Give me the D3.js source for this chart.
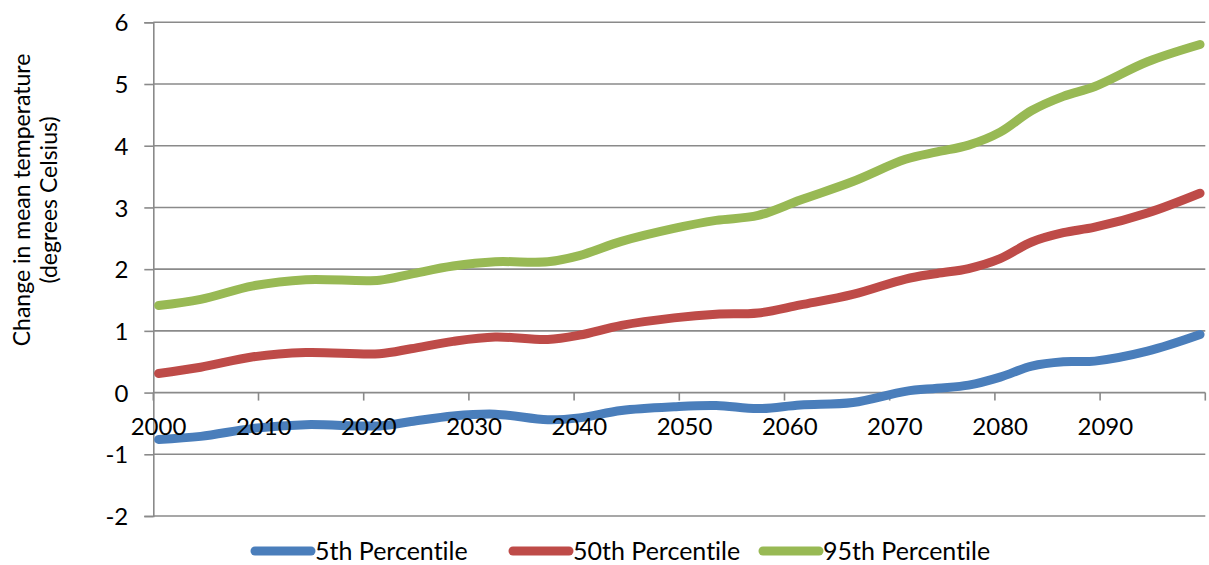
<!DOCTYPE html>
<html>
<head>
<meta charset="utf-8">
<script src="https://cdn.jsdelivr.net/npm/d3@7"></script>
<style>
  html, body { margin: 0; padding: 0; background: #fff; }
  svg { display: block; font-family: Lato, "Open Sans", sans-serif; font-variant-ligatures: none; }
</style>
</head>
<body>
<svg id="chart" width="1209" height="565"></svg>
<script>
// Projected change in mean temperature, by percentile
const years = [2000, 2004, 2009, 2014, 2021, 2024, 2028, 2032, 2037, 2040, 2044, 2049, 2053,
               2057, 2061, 2066, 2071, 2074, 2077, 2080, 2083, 2086, 2089, 2094, 2099];
const p5  = [-0.76, -0.71, -0.58, -0.52, -0.54, -0.47, -0.38, -0.35, -0.44, -0.41, -0.29, -0.23, -0.21,
             -0.26, -0.20, -0.16, 0.02, 0.07, 0.12, 0.25, 0.43, 0.50, 0.51, 0.67, 0.94];
const p50 = [0.31, 0.41, 0.58, 0.65, 0.63, 0.71, 0.83, 0.90, 0.86, 0.93, 1.09, 1.21, 1.27,
             1.29, 1.42, 1.59, 1.84, 1.93, 2.01, 2.17, 2.44, 2.59, 2.68, 2.91, 3.23];
const p95 = [1.41, 1.51, 1.73, 1.83, 1.82, 1.92, 2.05, 2.12, 2.12, 2.22, 2.45, 2.66, 2.79,
             2.87, 3.12, 3.42, 3.78, 3.90, 4.01, 4.22, 4.57, 4.80, 4.96, 5.36, 5.64];

const seriesNames  = ["5th Percentile", "50th Percentile", "95th Percentile"];
const seriesColors = ["#4a7ebb", "#be4b48", "#98b954"];
const seriesValues = [p5, p50, p95];

const yTicks = [-2, -1, 0, 1, 2, 3, 4, 5, 6];
const xTickYears = [2000, 2010, 2020, 2030, 2040, 2050, 2060, 2070, 2080, 2090, 2100];
const xLabelYears = [2000, 2010, 2020, 2030, 2040, 2050, 2060, 2070, 2080, 2090];

const svg = d3.select("#chart");
const gridColor = "#8a8a8a";
const fontSize = 24;

const x = d3.scaleLinear().domain([2000, 2100]).range([153.3, 1205.3]);
const y = d3.scaleLinear().domain([-2, 6]).range([516, 22.3]);

// horizontal gridlines
svg.append("g")
  .selectAll("line")
  .data(yTicks)
  .join("line")
  .attr("x1", x(2000)).attr("x2", x(2100))
  .attr("y1", d => y(d)).attr("y2", d => y(d))
  .attr("stroke", gridColor).attr("stroke-width", 1.6);

// value axis
const yAxis = svg.append("g")
  .attr("transform", `translate(${x(2000)},0)`)
  .call(d3.axisLeft(y).tickValues(yTicks).tickSize(9).tickPadding(16)
        .tickFormat(d => d3.format("d")(d).replace("−", "-")));
yAxis.select(".domain").attr("stroke", gridColor).attr("stroke-width", 1.6);
yAxis.selectAll(".tick line").attr("stroke", gridColor).attr("stroke-width", 1.6);
yAxis.selectAll(".tick text")
  .attr("font-size", fontSize).attr("fill", "#000").attr("font-family", "Lato, sans-serif")
  .attr("dy", "0.36em");

// category axis ticks along the zero line
svg.append("g")
  .selectAll("line")
  .data(xTickYears)
  .join("line")
  .attr("x1", d => x(d)).attr("x2", d => x(d))
  .attr("y1", y(0)).attr("y2", y(0) + 8)
  .attr("stroke", gridColor).attr("stroke-width", 1.6);

// series lines
const line = d3.line()
  .x(d => x(d.year + 0.5))
  .y(d => y(d.value))
  .curve(d3.curveCatmullRom.alpha(0.5));

seriesValues.forEach((vals, i) => {
  const pts = years.map((yr, j) => ({ year: yr, value: vals[j] }));
  svg.append("path")
    .datum(pts)
    .attr("d", line)
    .attr("fill", "none")
    .attr("stroke", seriesColors[i])
    .attr("stroke-width", 9)
    .attr("stroke-linecap", "round")
    .attr("stroke-linejoin", "round");
});

// category labels
svg.append("g")
  .selectAll("text")
  .data(xLabelYears)
  .join("text")
  .attr("x", d => x(d + 0.5))
  .attr("y", 435)
  .attr("text-anchor", "middle")
  .attr("font-size", fontSize)
  .attr("fill", "#000")
  .text(d => d);

// axis title
const title = svg.append("text")
  .attr("transform", "translate(0,200) rotate(-90)")
  .attr("text-anchor", "middle")
  .attr("font-size", 23)
  .attr("fill", "#000");
title.append("tspan").attr("x", 0).attr("y", 30).text("Change in mean temperature");
title.append("tspan").attr("x", 0).attr("y", 57).text("(degrees Celsius)");

// legend
const legendX = [255, 513, 763];
const legend = svg.append("g");
seriesNames.forEach((name, i) => {
  const g = legend.append("g").attr("transform", `translate(${legendX[i]},551)`);
  g.append("line")
    .attr("x1", 0).attr("x2", 56).attr("y1", 0).attr("y2", 0)
    .attr("stroke", seriesColors[i]).attr("stroke-width", 9)
    .attr("stroke-linecap", "round");
  g.append("text")
    .attr("x", 60).attr("y", 0).attr("dy", "0.36em")
    .attr("font-size", 25).attr("fill", "#000")
    .text(name);
});
</script>
</body>
</html>
